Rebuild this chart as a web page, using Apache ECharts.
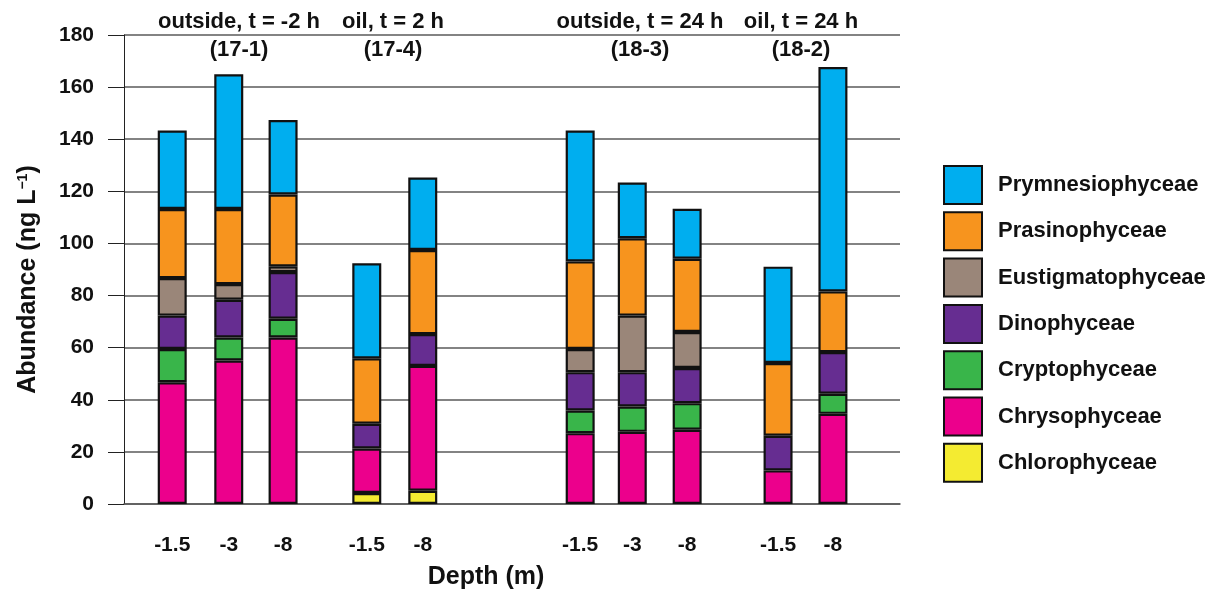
<!DOCTYPE html>
<html>
<head>
<meta charset="utf-8">
<script src="https://cdn.jsdelivr.net/npm/echarts@6/dist/echarts.min.js"></script>
<style>
  html, body { margin: 0; padding: 0; background: #fff; }
  #chart { width: 1216px; height: 594px; }
</style>
</head>
<body>
<div id="chart"></div>
<script>
// Sampling depth of each column (m)
const depthLabels = ['-1.5', '-3', '-8', '-1.5', '-8', '-1.5', '-3', '-8', '-1.5', '-8'];
// Column positions along the depth axis (axis units; gaps separate the four stations)
const columnSlots = [0.87, 1.89, 2.87, 4.38, 5.39, 8.23, 9.17, 10.16, 11.80, 12.79];

// Pigment-derived class abundances (ng L-1); null = not detected
const chlorophyceae     = [null, null, null, 4.2, 5.1, null, null, null, null, null];
const chrysophyceae     = [46.7, 55.1, 63.9, 17.1, 47.9, 27.2, 27.7, 28.5, 12.9, 34.6];
const cryptophyceae     = [12.8, 8.8, 7.2, null, null, 8.7, 9.7, 10.2, null, 7.7];
const dinophyceae       = [12.8, 14.5, 17.9, 9.5, 12.2, 14.7, 13.2, 13.5, 13.3, 16.0];
const eustigmatophyceae = [14.4, 6.0, 2.2, null, null, 8.9, 21.7, 13.8, null, null];
const prasinophyceae    = [26.5, 28.8, 27.6, 25.1, 32.3, 33.6, 29.7, 28.1, 27.9, 23.3];
const prymnesiophyceae  = [30.1, 51.7, 28.6, 36.5, 27.8, 50.2, 21.4, 19.2, 37.0, 86.1];

// Station headings
const stationTitles = ['outside, t = -2 h\n(17-1)', 'oil, t = 2 h\n(17-4)',
                       'outside, t = 24 h\n(18-3)', 'oil, t = 24 h\n(18-2)'];
const stationTitleX = [239, 393, 640, 801];

const FONT = '"Liberation Sans", Arial, Helvetica, sans-serif';

// Bottom-to-top stacking order
const classes = [
  { name: 'Chlorophyceae',     values: chlorophyceae,     color: '#F4EB31' },
  { name: 'Chrysophyceae',     values: chrysophyceae,     color: '#EC008C' },
  { name: 'Cryptophyceae',     values: cryptophyceae,     color: '#39B54A' },
  { name: 'Dinophyceae',       values: dinophyceae,       color: '#662D91' },
  { name: 'Eustigmatophyceae', values: eustigmatophyceae, color: '#9A8679' },
  { name: 'Prasinophyceae',    values: prasinophyceae,    color: '#F7941E' },
  { name: 'Prymnesiophyceae',  values: prymnesiophyceae,  color: '#00AEEF' }
];

const series = classes.map(c => ({
  name: c.name,
  type: 'bar',
  stack: 'total',
  barWidth: 29,
  // value first, position second; the encode below maps them to y and x
  data: c.values.map((v, i) => [v == null ? '-' : v, columnSlots[i]]),
  encode: { x: 1, y: 0 },
  itemStyle: { color: c.color, borderColor: '#111', borderWidth: 2.2 },
  emphasis: { disabled: true }
}));

const chart = echarts.init(document.getElementById('chart'), null, { renderer: 'canvas' });

chart.setOption({
  animation: false,
  backgroundColor: '#fff',
  textStyle: { fontFamily: FONT },
  grid: { left: 124, right: 316, top: 35, bottom: 90, containLabel: false, outerBoundsMode: 'none' },
  xAxis: {
    type: 'value',
    min: 0,
    max: 14,
    splitLine: { show: false },
    axisTick: { show: false },
    axisLine: { show: true, lineStyle: { color: '#5a5a5a', width: 1.6 } },
    axisLabel: {
      customValues: columnSlots,
      margin: 31,
      fontSize: 21,
      fontWeight: 'bold',
      color: '#111',
      fontFamily: FONT,
      formatter: v => {
        const i = columnSlots.indexOf(v);
        return i >= 0 ? depthLabels[i] : '';
      }
    },
    name: 'Depth (m)',
    nameLocation: 'middle',
    nameGap: 61,
    nameTextStyle: {
      fontSize: 25, fontWeight: 'bold', color: '#111', fontFamily: FONT,
      padding: [0, 52, 0, 0]
    }
  },
  yAxis: {
    type: 'value',
    min: 0,
    max: 180,
    interval: 20,
    axisLine: { show: true, lineStyle: { color: '#222', width: 1 } },
    axisTick: { show: true, inside: false, length: 16, lineStyle: { color: '#222', width: 1 } },
    splitLine: { show: true, lineStyle: { color: '#5a5a5a', width: 1.6 } },
    axisLabel: {
      margin: 30,
      fontSize: 21,
      fontWeight: 'bold',
      color: '#111',
      fontFamily: FONT
    },
    name: 'Abundance (ng L{sup|\u22121})',
    nameLocation: 'middle',
    nameGap: 83,
    nameTextStyle: {
      fontSize: 25, fontWeight: 'bold', color: '#111', fontFamily: FONT,
      padding: [0, 20, 0, 0],
      rich: {
        sup: { fontSize: 14, fontWeight: 'bold', color: '#111', fontFamily: FONT, verticalAlign: 'top' }
      }
    }
  },
  legend: {
    orient: 'vertical',
    left: 943,
    top: 165,
    padding: 0,
    itemWidth: 38,
    itemHeight: 38,
    itemGap: 6.3,
    icon: 'rect',
    selectedMode: false,
    data: classes.map(c => c.name).reverse(),
    itemStyle: { borderColor: '#111', borderWidth: 2 },
    textStyle: {
      fontSize: 22, fontWeight: 'bold', color: '#111', fontFamily: FONT,
      padding: [0, 0, 0, 11]
    }
  },
  graphic: stationTitles.map((t, i) => ({
    type: 'text',
    x: stationTitleX[i],
    y: 7.5,
    silent: true,
    style: {
      text: t,
      align: 'center',
      verticalAlign: 'top',
      fontSize: 22,
      lineHeight: 28,
      fontWeight: 'bold',
      fill: '#111',
      fontFamily: FONT
    }
  })),
  series: series
});
</script>
</body>
</html>
